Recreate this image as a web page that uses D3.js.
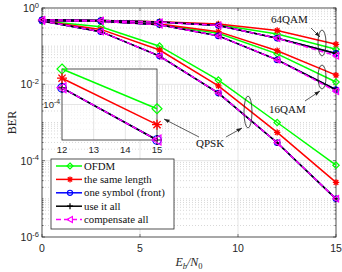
<!DOCTYPE html>
<html>
<head>
<meta charset="utf-8">
<script src="https://cdn.jsdelivr.net/npm/d3@7"></script>
<style>
  body { margin: 0; background: #fff; }
  svg { display: block; }
</style>
</head>
<body>
<div id="chart"></div>
<script>
// Eb/N0 points (dB)
var snr = [0, 3, 6, 9, 12, 15];

// BER, QPSK
var qpskOfdm     = [0.457, 0.324, 0.100, 0.0129, 1.0e-3, 7.6e-5];
var qpskSame     = [0.457, 0.275, 0.0794, 0.00912, 5.5e-4, 2.7e-5];
var qpskOne      = [0.457, 0.240, 0.055, 0.0059, 2.95e-4, 1.0e-5];
var qpskAll      = [0.457, 0.240, 0.055, 0.0059, 2.95e-4, 1.0e-5];
var qpskComp     = [0.457, 0.240, 0.055, 0.0059, 2.95e-4, 1.0e-5];

// BER, 16QAM
var qam16Ofdm    = [0.468, 0.447, 0.372, 0.219, 0.063, 0.0115];
var qam16Same    = [0.468, 0.447, 0.380, 0.240, 0.076, 0.0174];
var qam16One     = [0.468, 0.447, 0.363, 0.186, 0.0437, 0.0072];
var qam16All     = [0.468, 0.447, 0.363, 0.186, 0.0437, 0.0072];
var qam16Comp    = [0.468, 0.447, 0.363, 0.186, 0.0437, 0.0066];

// BER, 64QAM
var qam64Ofdm    = [0.490, 0.468, 0.427, 0.363, 0.209, 0.083];
var qam64Same    = [0.490, 0.468, 0.437, 0.380, 0.257, 0.112];
var qam64One     = [0.490, 0.468, 0.427, 0.347, 0.162, 0.0646];
var qam64All     = [0.490, 0.468, 0.427, 0.347, 0.162, 0.0646];
var qam64Comp    = [0.490, 0.468, 0.427, 0.347, 0.162, 0.056];

var methods = ["OFDM", "the same length", "one symbol (front)", "use it all", "compensate all"];
var xTicks = [0, 5, 10, 15];
var yTicks = [1, 1e-2, 1e-4, 1e-6];
var insetXTicks = [12, 13, 14, 15];
var insetYTicks = [1e-4];

var styles = [
    {color: "#00ff00", marker: "diamond", dash: null},
    {color: "#ff0000", marker: "star", dash: null},
    {color: "#0000ff", marker: "circle", dash: null},
    {color: "#000000", marker: "plus", dash: null},
    {color: "#ff00ff", marker: "triangle", dash: "5,3"}
];

var groups = [
    [qpskOfdm, qpskSame, qpskOne, qpskAll, qpskComp],
    [qam16Ofdm, qam16Same, qam16One, qam16All, qam16Comp],
    [qam64Ofdm, qam64Same, qam64One, qam64All, qam64Comp]
];

var W = 342, H = 272;
var svg = d3.select("#chart").append("svg")
    .attr("width", W).attr("height", H);

var x = d3.scaleLinear().domain([0, 15]).range([42, 336]);
var y = d3.scaleLog().domain([1e-6, 1]).range([237, 8]);

var axisColor = "#262626";
var sansFont = "'Liberation Sans', Arial, sans-serif";
var serifFont = "'Liberation Serif', 'Times New Roman', serif";

function drawMarker(g, type, cx, cy, s, color) {
    if (type === "diamond") {
        g.append("path")
            .attr("d", "M" + cx + "," + (cy - s) + "L" + (cx + s) + "," + cy +
                "L" + cx + "," + (cy + s) + "L" + (cx - s) + "," + cy + "Z")
            .attr("fill", "none").attr("stroke", color).attr("stroke-width", 1.2);
    } else if (type === "circle") {
        g.append("circle").attr("cx", cx).attr("cy", cy).attr("r", s * 0.85)
            .attr("fill", "none").attr("stroke", color).attr("stroke-width", 1.2);
    } else if (type === "plus") {
        g.append("path")
            .attr("d", "M" + (cx - s) + "," + cy + "L" + (cx + s) + "," + cy +
                "M" + cx + "," + (cy - s) + "L" + cx + "," + (cy + s))
            .attr("stroke", color).attr("stroke-width", 1.2);
    } else if (type === "star") {
        var d = s * 0.72;
        g.append("path")
            .attr("d", "M" + (cx - s) + "," + cy + "L" + (cx + s) + "," + cy +
                "M" + cx + "," + (cy - s) + "L" + cx + "," + (cy + s) +
                "M" + (cx - d) + "," + (cy - d) + "L" + (cx + d) + "," + (cy + d) +
                "M" + (cx - d) + "," + (cy + d) + "L" + (cx + d) + "," + (cy - d))
            .attr("stroke", color).attr("stroke-width", 1.3);
    } else if (type === "triangle") {
        g.append("path")
            .attr("d", "M" + (cx - s) + "," + cy + "L" + (cx + s * 0.8) + "," + (cy - s) +
                "L" + (cx + s * 0.8) + "," + (cy + s) + "Z")
            .attr("fill", "none").attr("stroke", color).attr("stroke-width", 1.2);
    }
}

function supLabel(g, x0, y0, base, exp, size, anchor) {
    var t = g.append("text")
        .attr("x", x0).attr("y", y0)
        .attr("text-anchor", anchor)
        .attr("font-family", sansFont)
        .attr("font-size", size)
        .attr("fill", axisColor);
    t.append("tspan").text(base);
    t.append("tspan").attr("dy", -size * 0.4).attr("font-size", size * 0.72).text(exp);
}

// ---- main axes: grid ----
var grid = svg.append("g");
var minorY = [];
for (var e = -6; e < 0; e++) {
    for (var m = 1; m < 10; m++) {
        var v = m * Math.pow(10, e);
        if (yTicks.indexOf(v) < 0) minorY.push(v);
    }
}
grid.selectAll("line.minor").data(minorY).enter().append("line")
    .attr("x1", x(0)).attr("x2", x(15))
    .attr("y1", function(d) { return y(d); })
    .attr("y2", function(d) { return y(d); })
    .attr("stroke", "#bdbdbd").attr("stroke-width", 0.6)
    .attr("stroke-dasharray", "1,2");
grid.selectAll("line.majy").data([1e-2, 1e-4]).enter().append("line")
    .attr("x1", x(0)).attr("x2", x(15))
    .attr("y1", function(d) { return y(d); })
    .attr("y2", function(d) { return y(d); })
    .attr("stroke", "#dedede").attr("stroke-width", 0.8);
grid.selectAll("line.majx").data([5, 10]).enter().append("line")
    .attr("y1", y(1)).attr("y2", y(1e-6))
    .attr("x1", function(d) { return x(d); })
    .attr("x2", function(d) { return x(d); })
    .attr("stroke", "#dedede").attr("stroke-width", 0.8);

// ---- main axes: box and ticks ----
var ax = svg.append("g");
ax.append("rect")
    .attr("x", x(0)).attr("y", y(1))
    .attr("width", x(15) - x(0)).attr("height", y(1e-6) - y(1))
    .attr("fill", "none").attr("stroke", axisColor).attr("stroke-width", 0.8);

var allY = minorY.concat(yTicks);
allY.forEach(function(v) {
    var len = yTicks.indexOf(v) >= 0 ? 3 : 1.6;
    ax.append("line").attr("x1", x(0)).attr("x2", x(0) + len)
        .attr("y1", y(v)).attr("y2", y(v)).attr("stroke", axisColor).attr("stroke-width", 0.6);
    ax.append("line").attr("x1", x(15)).attr("x2", x(15) - len)
        .attr("y1", y(v)).attr("y2", y(v)).attr("stroke", axisColor).attr("stroke-width", 0.6);
});
xTicks.forEach(function(v) {
    ax.append("line").attr("x1", x(v)).attr("x2", x(v))
        .attr("y1", y(1e-6)).attr("y2", y(1e-6) - 3).attr("stroke", axisColor).attr("stroke-width", 0.6);
    ax.append("line").attr("x1", x(v)).attr("x2", x(v))
        .attr("y1", y(1)).attr("y2", y(1) + 3).attr("stroke", axisColor).attr("stroke-width", 0.6);
    ax.append("text")
        .attr("x", x(v)).attr("y", y(1e-6) + 15)
        .attr("text-anchor", "middle")
        .attr("font-family", sansFont).attr("font-size", 10.5)
        .attr("fill", axisColor)
        .text(v);
});
yTicks.forEach(function(v) {
    supLabel(ax, x(0) - 3, y(v) + 4, "10", String(Math.round(Math.log10(v))), 10.5, "end");
});

// axis titles
svg.append("text")
    .attr("transform", "translate(16," + ((y(1) + y(1e-6)) / 2) + ") rotate(-90)")
    .attr("text-anchor", "middle")
    .attr("font-family", serifFont).attr("font-size", 12)
    .attr("fill", axisColor)
    .text("BER");
var xl = svg.append("text")
    .attr("x", (x(0) + x(15)) / 2).attr("y", 266)
    .attr("text-anchor", "middle")
    .attr("font-family", serifFont).attr("font-size", 12)
    .attr("font-style", "italic")
    .attr("fill", axisColor);
xl.append("tspan").text("E");
xl.append("tspan").attr("dy", 3).attr("font-size", 8.5).text("b");
xl.append("tspan").attr("dy", -3).text("/N");
xl.append("tspan").attr("dy", 3).attr("font-size", 8.5).attr("font-style", "normal").text("0");

// ---- main curves ----
var line = d3.line()
    .x(function(d) { return x(d[0]); })
    .y(function(d) { return y(d[1]); });

var curves = svg.append("g");
groups.forEach(function(grp) {
    grp.forEach(function(vals, i) {
        var st = styles[i];
        var pts = d3.zip(snr, vals);
        var g = curves.append("g");
        g.append("path").datum(pts)
            .attr("d", line)
            .attr("fill", "none")
            .attr("stroke", st.color)
            .attr("stroke-width", 1.5)
            .attr("stroke-dasharray", st.dash);
        pts.forEach(function(p) {
            drawMarker(g, st.marker, x(p[0]), y(p[1]), 3.2, st.color);
        });
    });
});

// ---- annotations ----
var ann = svg.append("g");
svg.append("defs").append("marker")
    .attr("id", "arr").attr("viewBox", "0 0 10 10")
    .attr("refX", 10).attr("refY", 5)
    .attr("markerWidth", 7).attr("markerHeight", 7)
    .attr("orient", "auto-start-reverse")
    .append("path").attr("d", "M0,1.5L10,5L0,8.5Z").attr("fill", "#222");

function ellipse(cx, cy, rx, ry) {
    ann.append("ellipse").attr("cx", cx).attr("cy", cy).attr("rx", rx).attr("ry", ry)
        .attr("fill", "none").attr("stroke", "#222").attr("stroke-width", 0.8);
}
function arrow(x1, y1, x2, y2) {
    ann.append("line").attr("x1", x1).attr("y1", y1).attr("x2", x2).attr("y2", y2)
        .attr("stroke", "#333").attr("stroke-width", 0.8)
        .attr("marker-end", "url(#arr)");
}
function label(tx, ty, s) {
    ann.append("text").attr("x", tx).attr("y", ty)
        .attr("font-family", serifFont).attr("font-size", 11)
        .attr("fill", "#111").text(s);
}

ellipse(322, 43, 4, 13);
arrow(311, 28, 320, 37);
label(271, 23, "64QAM");

ellipse(322, 77, 4, 12);
arrow(305, 101, 320, 91);
label(269, 113, "16QAM");

ellipse(248, 112, 4, 16);
arrow(226, 137, 242, 128);
arrow(199, 137, 164, 119);
label(196, 147, "QPSK");

// ---- inset ----
var xi = d3.scaleLinear().domain([12, 15]).range([62, 157]);
var yi = d3.scaleLog().domain([1e-5, 1e-3]).range([140, 69]);
var inset = svg.append("g");
inset.append("rect")
    .attr("x", xi(12)).attr("y", yi(1e-3))
    .attr("width", xi(15) - xi(12)).attr("height", yi(1e-5) - yi(1e-3))
    .attr("fill", "#fff");
var insetMinor = [];
for (var ie = -5; ie < -3; ie++) {
    for (var im = 2; im < 10; im++) insetMinor.push(im * Math.pow(10, ie));
}
inset.selectAll("line.iminor").data(insetMinor).enter().append("line")
    .attr("x1", xi(12)).attr("x2", xi(15))
    .attr("y1", function(d) { return yi(d); })
    .attr("y2", function(d) { return yi(d); })
    .attr("stroke", "#e4e4e4").attr("stroke-width", 0.5)
    .attr("stroke-dasharray", "1,2");
inset.selectAll("line.imajx").data([13, 14]).enter().append("line")
    .attr("x1", function(d) { return xi(d); })
    .attr("x2", function(d) { return xi(d); })
    .attr("y1", yi(1e-3)).attr("y2", yi(1e-5))
    .attr("stroke", "#dedede").attr("stroke-width", 0.8);
inset.selectAll("line.imajy").data(insetYTicks).enter().append("line")
    .attr("x1", xi(12)).attr("x2", xi(15))
    .attr("y1", function(d) { return yi(d); })
    .attr("y2", function(d) { return yi(d); })
    .attr("stroke", "#dedede").attr("stroke-width", 0.8);
inset.append("rect")
    .attr("x", xi(12)).attr("y", yi(1e-3))
    .attr("width", xi(15) - xi(12)).attr("height", yi(1e-5) - yi(1e-3))
    .attr("fill", "none").attr("stroke", axisColor).attr("stroke-width", 0.8);
insetXTicks.forEach(function(v) {
    inset.append("text")
        .attr("x", xi(v)).attr("y", yi(1e-5) + 13)
        .attr("text-anchor", "middle")
        .attr("font-family", sansFont).attr("font-size", 9.5)
        .attr("fill", axisColor).text(v);
});
insetYTicks.forEach(function(v) {
    supLabel(inset, xi(12) - 2, yi(v) + 3.5, "10", String(Math.round(Math.log10(v))), 9.5, "end");
});

var lineI = d3.line()
    .x(function(d) { return xi(d[0]); })
    .y(function(d) { return yi(d[1]); });
groups[0].forEach(function(vals, i) {
    var st = styles[i];
    var pts = d3.zip(snr, vals).filter(function(p) { return p[0] >= 12; });
    var g = inset.append("g");
    g.append("path").datum(pts)
        .attr("d", lineI)
        .attr("fill", "none")
        .attr("stroke", st.color)
        .attr("stroke-width", 1.5)
        .attr("stroke-dasharray", st.dash);
    pts.forEach(function(p) {
        drawMarker(g, st.marker, xi(p[0]), yi(p[1]), 5, st.color);
    });
});

// ---- legend ----
var lg = svg.append("g");
lg.append("rect")
    .attr("x", 51).attr("y", 159).attr("width", 123).attr("height", 70)
    .attr("fill", "#fff").attr("stroke", axisColor).attr("stroke-width", 0.8);
methods.forEach(function(name, i) {
    var st = styles[i];
    var ly = 166 + i * 13.4;
    lg.append("line").attr("x1", 56).attr("x2", 82).attr("y1", ly).attr("y2", ly)
        .attr("stroke", st.color).attr("stroke-width", 1.5)
        .attr("stroke-dasharray", st.dash);
    drawMarker(lg, st.marker, 70, ly, 3, st.color);
    lg.append("text").attr("x", 84).attr("y", ly + 3.5)
        .attr("font-family", serifFont).attr("font-size", 10.8)
        .attr("fill", "#111").text(name);
});
</script>
</body>
</html>
